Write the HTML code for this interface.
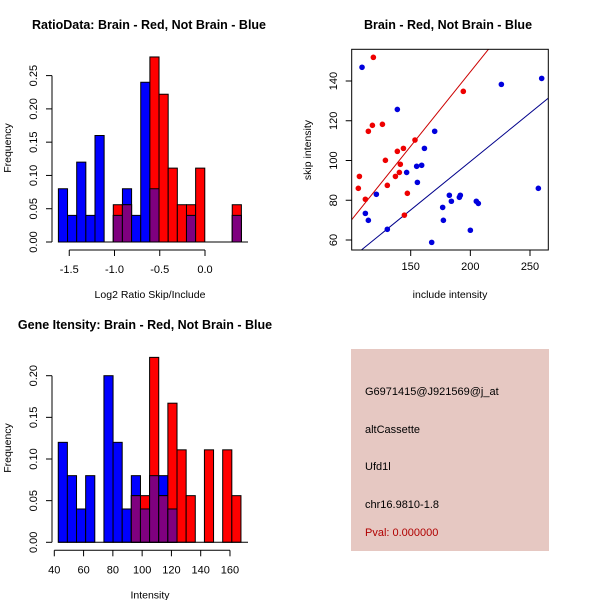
<!DOCTYPE html>
<html><head><meta charset="utf-8"><style>
body{margin:0;background:#fff}
svg{display:block;font-family:"Liberation Sans",sans-serif}
</style></head><body>
<svg id="s" width="600" height="600" xmlns="http://www.w3.org/2000/svg">
<rect x="351" y="349" width="198" height="202" fill="#e6c8c2"/>
<text x="365" y="395" font-size="11">G6971415@J921569@j_at</text>
<text x="365" y="433" font-size="11">altCassette</text>
<text x="365" y="470" font-size="11">Ufd1l</text>
<text x="365" y="508" font-size="11">chr16.9810-1.8</text>
<text x="365" y="536" font-size="11" fill="#b00000">Pval: 0.000000</text>
</svg>
<script>
// ---- histogram 1 data ----
const h1Start = -1.62, h1Width = 0.1011;
const h1Blue = [0.08,0.04,0.12,0.04,0.16,0,0.04,0.08,0.04,0.24,0.08,0,0,0,0.04,0,0,0,0,0.04];
const h1Red  = [0,0,0,0,0,0,0.056,0.056,0,0,0.278,0.222,0.111,0.056,0.056,0.111,0,0,0,0.056];
const h1XTicks = [-1.5,-1.0,-0.5,0.0];
const h1XLabels = ["-1.5","-1.0","-0.5","0.0"];
const h1YTicks = [0,0.05,0.10,0.15,0.20,0.25];
const h1YLabels = ["0.00","0.05","0.10","0.15","0.20","0.25"];
// ---- histogram 2 data ----
const h2Start = 42.7, h2Width = 6.24;
const h2Blue = [0.12,0.08,0.04,0.08,0,0.20,0.12,0.04,0.08,0.04,0.08,0.08,0.04,0,0,0,0,0,0,0];
const h2Red  = [0,0,0,0,0,0,0,0,0.056,0.056,0.222,0.056,0.167,0.111,0.056,0,0.111,0,0.111,0.056];
const h2XTicks = [40,60,80,100,120,140,160];
const h2XLabels = ["40","60","80","100","120","140","160"];
const h2YTicks = [0,0.05,0.10,0.15,0.20];
const h2YLabels = ["0.00","0.05","0.10","0.15","0.20"];
// ---- scatter data ----
const redX = [118.7,117.9,114.5,126.3,107,106.1,112,128.8,130.4,138.8,143.9,141.3,137.2,140.5,153.6,147.2,144.7,194.1];
const redY = [151.9,117.7,114.7,118.2,92,86,80.5,100.1,87.5,104.6,106.1,98.1,92,94,110.3,83.5,72.5,134.8];
const blueX = [109.2,138.8,121.2,112,114.5,130.4,146.6,155.6,155,159.2,161.5,170.1,167.6,177.4,176.8,182.4,184.1,190.8,191.6,200,205,206.7,226,259.8,257];
const blueY = [146.9,125.7,83,73.4,69.9,65.4,94,89,97.1,97.6,106.1,114.7,58.8,69.9,76.4,82.5,79.5,81.5,82.5,64.9,79.5,78.4,138.3,141.3,86];
const lineIntercepts = [-5.0, 2.0];
const lineSlopes = [0.748, 0.4875];
const scXTicks = [150,200,250];
const scYTicks = [60,80,100,120,140];

const s = document.getElementById('s');
const NS = 'http://www.w3.org/2000/svg';
function mk(tag, attrs, parent){const e=document.createElementNS(NS,tag);for(const k in attrs)e.setAttribute(k,attrs[k]);(parent||s).appendChild(e);return e;}
function txt(x,y,t,attrs){const e=mk('text',Object.assign({x:x,y:y,'font-size':11,'text-anchor':'middle'},attrs||{}));e.textContent=t;return e;}

function hist(o){
  const g=mk('g',{});
  
  
  const X=v=>o.x0+(v-o.xv0)*o.xs, Y=v=>o.base-v*o.ys;
  for(let i=0;i<o.blue.length;i++){
    const a=o.start+i*o.w, b=a+o.w;
    const bx=X(a), bw=X(b)-X(a);
    const bl=o.blue[i], rd=o.red[i];
    if(bl>0){const r=mk('rect',{x:bx,y:Y(bl),width:bw,height:Y(0)-Y(bl),fill:'#0000ff',stroke:'#000','stroke-width':1},g);
      
      }
    if(rd>0){const r=mk('rect',{x:bx,y:Y(rd),width:bw,height:Y(0)-Y(rd),fill:'#ff0000',stroke:'#000','stroke-width':1},g);
      
      }
    const m=Math.min(bl,rd);
    if(m>0){const r=mk('rect',{x:bx,y:Y(m),width:bw,height:Y(0)-Y(m),fill:'#7f007f',stroke:'#000','stroke-width':1},g);
      
      }
  }
  mk('line',{x1:X(o.start),x2:o.baseEnd,y1:o.base,y2:o.base,stroke:'#000'},g);
  const xt=o.xticks;
  mk('line',{x1:X(xt[0]),x2:X(xt[xt.length-1]),y1:o.base+8,y2:o.base+8,stroke:'#000'},g);
  xt.forEach((v,i)=>{mk('line',{x1:X(v),x2:X(v),y1:o.base+8,y2:o.base+14,stroke:'#000'},g);
    const t=txt(X(v),o.base+31,o.xlabels[i]);});
  const yt=o.yticks;
  mk('line',{x1:o.x0y,x2:o.x0y,y1:Y(yt[0]),y2:Y(yt[yt.length-1]),stroke:'#000'},g);
  yt.forEach((v,i)=>{mk('line',{x1:o.x0y-6,x2:o.x0y,y1:Y(v),y2:Y(v),stroke:'#000'},g);
    const t=txt(37,Y(v),o.ylabels[i],{transform:`rotate(-90 37 ${Y(v)})`});});
  const xl=txt(o.xlabX,o.base+56,o.xlab,{'font-size':10.5});
  const yl=txt(11,o.ylabY,'Frequency',{transform:`rotate(-90 11 ${o.ylabY})`,'font-size':10.5});
  const ti=txt(o.titleX,o.titleY,o.title,{'font-weight':'bold','font-size':12.5});
}
hist({name:'ratio-histogram',start:h1Start,w:h1Width,blue:h1Blue,red:h1Red,x0:205,xv0:0,xs:90.5,base:242,ys:665.6,baseEnd:248,
  xticks:h1XTicks,xlabels:h1XLabels,yticks:h1YTicks,ylabels:h1YLabels,x0y:52,xlab:'Log2 Ratio Skip/Include',xlabX:150,ylabY:148,
  title:'RatioData: Brain - Red, Not Brain - Blue',titleX:149,titleY:29});
hist({name:'intensity-histogram',start:h2Start,w:h2Width,blue:h2Blue,red:h2Red,x0:54.3,xv0:40,xs:1.464,base:542.3,ys:833,baseEnd:248,
  xticks:h2XTicks,xlabels:h2XLabels,yticks:h2YTicks,ylabels:h2YLabels,x0y:52,xlab:'Intensity',xlabX:150,ylabY:448,
  title:'Gene Itensity: Brain - Red, Not Brain - Blue',titleX:145,titleY:329});

const SX=v=>410.7+(v-150)*1.193, SY=v=>240-(v-60)*1.9875;
const L=351.7,R=548.3,T=49.3,B=250;
const sg=mk('g',{});


const cp=mk('clipPath',{id:'cp'},sg);mk('rect',{x:L,y:T,width:R-L,height:B-T},cp);
const lineColors=['#cc0000','#00008b'];
lineIntercepts.forEach((a,i)=>{
  const x1=(L-410.7)/1.193+150, x2=(R-410.7)/1.193+150;
  const l=mk('line',{x1:SX(x1),y1:SY(a+lineSlopes[i]*x1),x2:SX(x2),y2:SY(a+lineSlopes[i]*x2),stroke:lineColors[i],'stroke-width':1,'clip-path':'url(#cp)'},sg);
  
  
});
blueX.forEach((x,i)=>{const c=mk('circle',{cx:SX(x),cy:SY(blueY[i]),r:2.8,fill:'#0000dd'},sg);
  
  });
redX.forEach((x,i)=>{const c=mk('circle',{cx:SX(x),cy:SY(redY[i]),r:2.8,fill:'#ee0000'},sg);
  
  });
mk('rect',{x:L,y:T,width:R-L,height:B-T,fill:'none',stroke:'#000'},sg);
scXTicks.forEach(v=>{mk('line',{x1:SX(v),x2:SX(v),y1:B,y2:B+6,stroke:'#000'},sg);
  const t=txt(SX(v),B+20,String(v));});
scYTicks.forEach(v=>{mk('line',{x1:L-6,x2:L,y1:SY(v),y2:SY(v),stroke:'#000'},sg);
  const t=txt(337,SY(v),String(v),{transform:`rotate(-90 337 ${SY(v)})`});});
const sx=txt(450,298,'include intensity',{'font-size':10.5});
const sy=txt(311,150,'skip intensity',{'font-size':10.5,transform:'rotate(-90 311 150)'});
const st=txt(448,29,'Brain - Red, Not Brain - Blue',{'font-weight':'bold','font-size':12.5});
</script>
</body></html>
